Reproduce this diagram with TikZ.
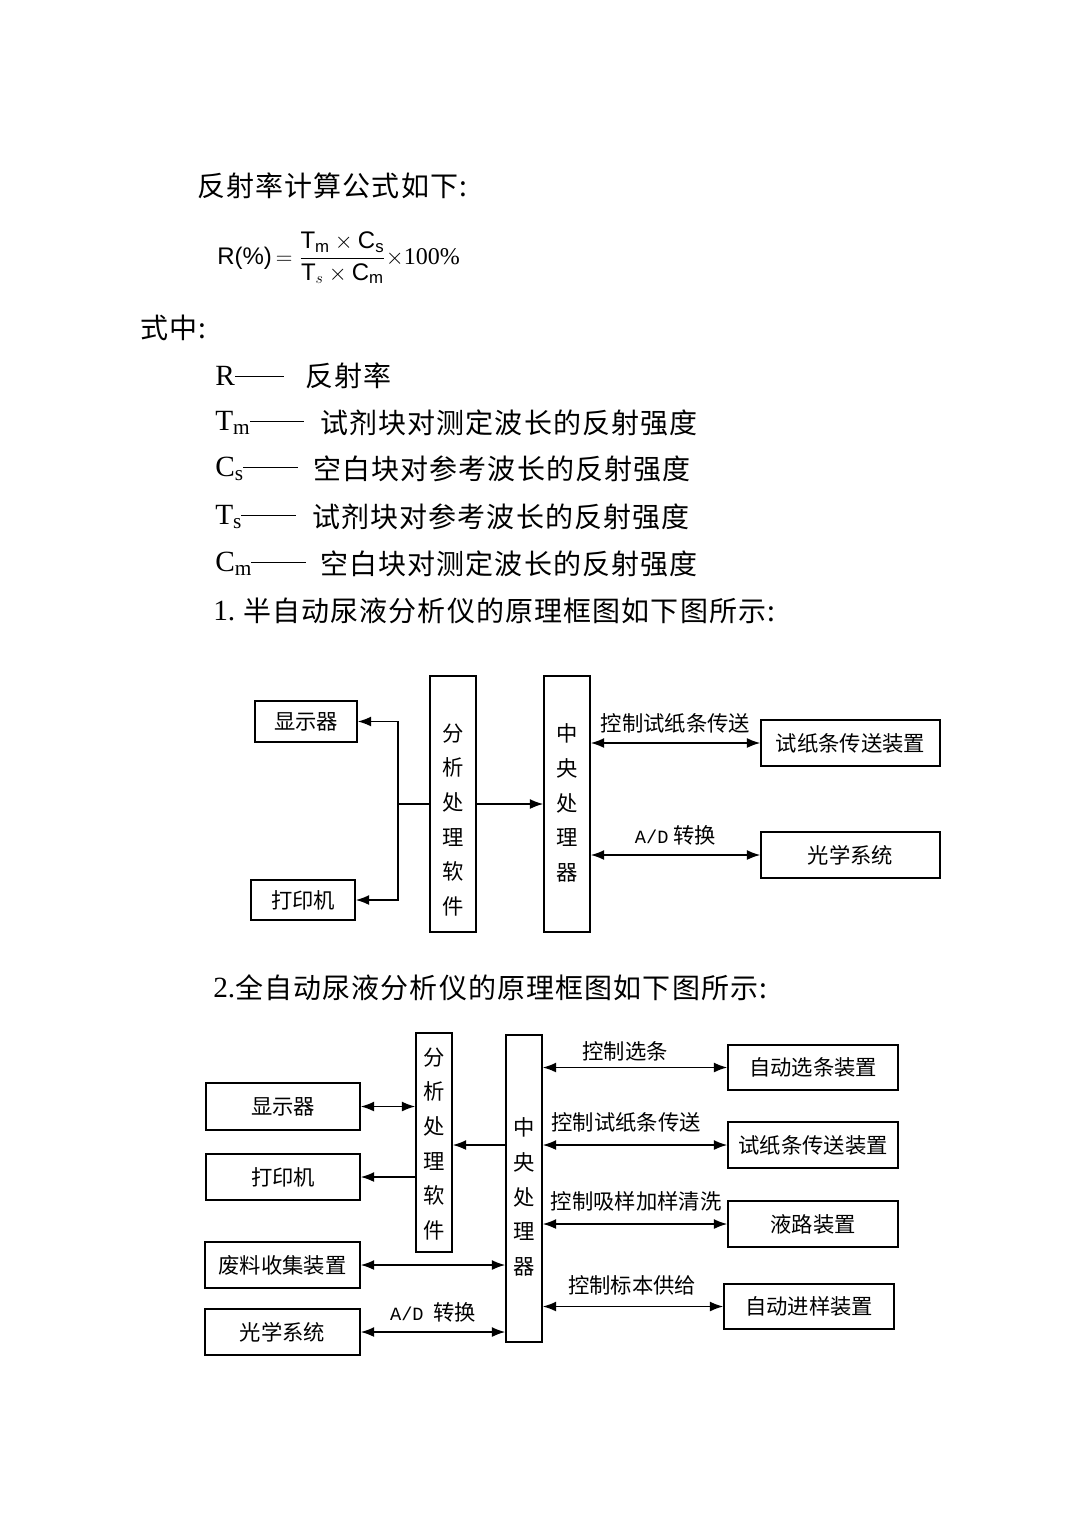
\documentclass[tikz,border=0pt]{standalone}
\usepackage{amsmath}
\usepackage{fontspec}
\setmainfont{Liberation Serif}
\newfontfamily\cjk{Noto Sans CJK SC}
\newfontfamily\cjkls{Noto Sans CJK SC}[LetterSpace=4]
\newfontfamily\arial{Liberation Sans}
\newfontfamily\mono{Liberation Mono}
\usetikzlibrary{arrows.meta}
\begin{document}
\begin{tikzpicture}[x=0.75pt,y=-0.75pt,
  bx/.style 2 args={draw, line width=1.2pt, inner sep=0pt, minimum width=#1*0.75pt, minimum height=#2*0.75pt, font=\cjk\fontsize{16}{19}\selectfont},
  vtext/.style={inner sep=0pt, align=center, font=\cjk\fontsize{16}{26}\selectfont},
  lbl/.style={inner sep=0pt, font=\cjk\fontsize{16}{19}\selectfont},
  para/.style={inner sep=0pt, anchor=west, font=\cjkls\fontsize{21}{25}\selectfont},
  latin/.style={inner sep=0pt, anchor=west, font=\rmfamily\fontsize{22}{25}\selectfont},
  conn/.style={line width=1.1pt},
  >={Latex[length=10pt,width=7.5pt]}]
\useasboundingbox (0,0) rectangle (1080,1526);
\fill[white] (0,0) rectangle (1080,1526);

% ---------- text part ----------
\node[para] (t1) at (197,186) {反射率计算公式如下:};
\node[inner sep=0pt, anchor=west] (fml) at (217,258) {\fontsize{18}{21}\selectfont\arial R(\%)\,$=\dfrac{\text{\arial T}_{\text{\arial m}}\times\text{\arial C}_{\text{\arial s}}}{\text{\arial T}_{s}\times\text{\arial C}_{\text{\arial m}}}\times$\rmfamily 100\%};
\node[para] (t2) at (140,328) {式中:};

\node[latin] (lR) at (215,376) {R\rule[0.3em]{37pt}{0.7pt}};
\node[para] (dR) at (305,376) {反射率};
\node[latin] (lTm) at (215,423) {T\raisebox{-0.3ex}{\fontsize{16}{16}\selectfont m}\rule[0.3em]{41pt}{0.7pt}};
\node[para] (dTm) at (320,423) {试剂块对测定波长的反射强度};
\node[latin] (lCs) at (215,469) {C\raisebox{-0.3ex}{\fontsize{16}{16}\selectfont s}\rule[0.3em]{41pt}{0.7pt}};
\node[para] (dCs) at (313,469) {空白块对参考波长的反射强度};
\node[latin] (lTs) at (215,517) {T\raisebox{-0.3ex}{\fontsize{16}{16}\selectfont s}\rule[0.3em]{41pt}{0.7pt}};
\node[para] (dTs) at (312,517) {试剂块对参考波长的反射强度};
\node[latin] (lCm) at (215,564) {C\raisebox{-0.3ex}{\fontsize{16}{16}\selectfont m}\rule[0.3em]{41pt}{0.7pt}};
\node[para] (dCm) at (320,564) {空白块对测定波长的反射强度};

\node[latin] (n1) at (213,611) {1.};
\node[para] (h1) at (243,611) {半自动尿液分析仪的原理框图如下图所示:};
\node[latin] (n2) at (213,988) {2.};
\node[para] (h2) at (235,988) {全自动尿液分析仪的原理框图如下图所示:};

% ---------- diagram 1 ----------
\node[bx={102}{41}] (d1disp) at (306,721.5) {显示器};
\node[bx={104}{40}] (d1prn) at (303,900) {打印机};
\node[bx={46}{256}] (d1soft) at (453,804) {};
\node[vtext] (d1softt) at (453,820) {分\\析\\处\\理\\软\\件};
\node[bx={46}{256}] (d1cpu) at (567,804) {};
\node[vtext] (d1cput) at (567,803) {中\\央\\处\\理\\器};
\node[bx={179}{46}] (d1strip) at (850.5,743) {试纸条传送装置};
\node[bx={179}{46}] (d1opt) at (850.5,855) {光学系统};

\coordinate (j1) at (398,804);
\draw[conn] (d1soft.west) -- (j1);
\draw[conn,->] (j1) |- (d1disp.east);
\draw[conn,->] (j1) |- (d1prn.east);
\draw[conn,->] (d1soft.east) -- (d1cpu.west);
\draw[conn,<->] (d1cpu.east |- d1strip.west) -- node[lbl, above=7pt] {控制试纸条传送} (d1strip.west);
\draw[conn,<->] (d1cpu.east |- d1opt.west) -- node[lbl, above=7pt] {{\mono\fontsize{14}{16}\selectfont A/D} 转换} (d1opt.west);

% ---------- diagram 2 ----------
\node[bx={36}{219}] (d2soft) at (434,1142.5) {};
\node[vtext] (d2softt) at (434,1144) {分\\析\\处\\理\\软\\件};
\node[bx={36}{307}] (d2cpu) at (524,1188.5) {};
\node[vtext] (d2cput) at (524,1197) {中\\央\\处\\理\\器};

\node[bx={154}{47}] (d2disp) at (283,1106.5) {显示器};
\node[bx={154}{46}] (d2prn) at (283,1177) {打印机};
\node[bx={155}{46}] (d2waste) at (282.5,1265) {废料收集装置};
\node[bx={155}{46}] (d2opt) at (282.5,1332) {光学系统};

\node[bx={170}{45}] (d2sel) at (813,1067.5) {自动选条装置};
\node[bx={170}{46}] (d2strip) at (813,1145) {试纸条传送装置};
\node[bx={170}{46}] (d2liq) at (813,1224) {液路装置};
\node[bx={170}{45}] (d2auto) at (809,1306.5) {自动进样装置};

\draw[conn,<->] (d2disp.east) -- (d2disp.east -| d2soft.west);
\draw[conn,->] (d2soft.west |- d2prn.east) -- (d2prn.east);
\draw[conn,->] (d2cpu.west |- d2strip.west) -- (d2soft.east |- d2strip.west);
\draw[conn,<->] (d2waste.east) -- (d2waste.east -| d2cpu.west);
\draw[conn,<->] (d2opt.east) -- node[lbl, above=7pt] {{\mono\fontsize{14}{16}\selectfont A/D}\ \ 转换} (d2opt.east -| d2cpu.west);

\draw[conn,<->] (d2cpu.east |- d2sel.west) -- (d2sel.west);
\node[lbl] (l1) at (625,1051) {控制选条};
\draw[conn,<->] (d2cpu.east |- d2strip.west) -- (d2strip.west);
\node[lbl] (l2) at (626,1122) {控制试纸条传送};
\draw[conn,<->] (d2cpu.east |- d2liq.west) -- (d2liq.west);
\node[lbl] (l3) at (636,1201) {控制吸样加样清洗};
\draw[conn,<->] (d2cpu.east |- d2auto.west) -- (d2auto.west);
\node[lbl] (l4) at (632,1285) {控制标本供给};
\end{tikzpicture}
\end{document}
